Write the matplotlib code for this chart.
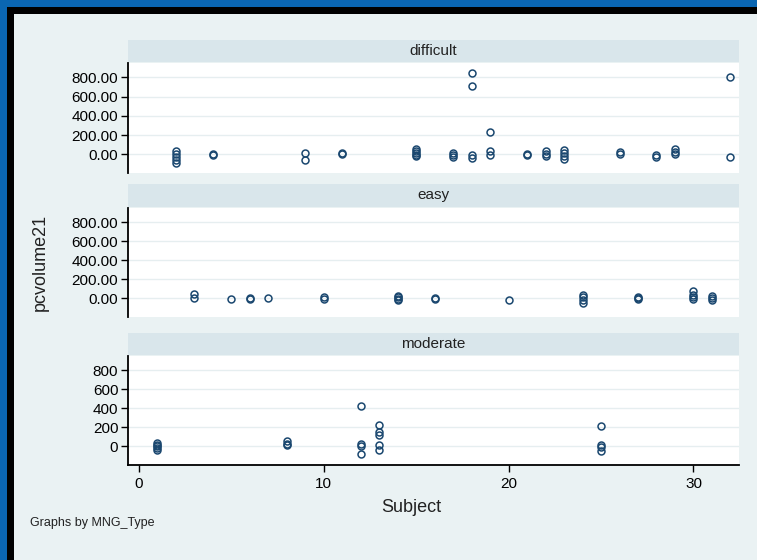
import matplotlib.pyplot as plt
from matplotlib.patches import Rectangle

plt.rcParams['font.family'] = ['Liberation Sans', 'DejaVu Sans']

# subject -> pcvolume21 values, one dict per MNG_Type
difficult = {
    2: [30, 0, -30, -60, -90],
    4: [0, -10],
    9: [15, -55],
    11: [10, 0],
    15: [50, 30, 10, -10, -20],
    17: [10, -10, -30],
    18: [850, 715, -10, -35],
    19: [230, 30, -5],
    21: [5, -5],
    22: [30, 0, -20],
    23: [40, 10, -20, -50],
    26: [20, 0],
    28: [-10, -30],
    29: [50, 20, 0],
    32: [800, -30],
}
easy = {
    3: [45, 5],
    5: [-5],
    6: [5, -5],
    7: [0],
    10: [10, -10],
    14: [30, 10, -10, -20],
    16: [5, -5],
    20: [-12],
    24: [40, 10, -20, -50],
    27: [10, 0, -5],
    30: [75, 40, 10, -10],
    31: [30, 0, -15],
}
moderate = {
    1: [40, 15, 0, -15, -35],
    8: [55, 25, 10],
    12: [425, 30, 5, -80],
    13: [220, 150, 115, 20, -40],
    25: [215, 15, -5, -45],
}

panel_names = ['difficult', 'easy', 'moderate']
panel_data = [difficult, easy, moderate]
y_ticks = [0, 200, 400, 600, 800]
x_ticks = [0, 10, 20, 30]

W, H = 757, 560
bg = '#eaf2f3'
strip_col = '#d9e6eb'
navy = '#1a476f'

fig = plt.figure(figsize=(W / 100, H / 100), dpi=100)
fig.patch.set_facecolor('#0a66b2')


def box(x0, y0, x1, y1):
    # pixel box (top-left origin) -> figure fractions
    return [x0 / W, 1 - y1 / H, (x1 - x0) / W, (y1 - y0) / H]


b = box(7, 7, W, H)
fig.patches.append(Rectangle((b[0], b[1]), b[2], b[3], transform=fig.transFigure,
                             facecolor='black', edgecolor='none', zorder=-2))
b = box(14, 14, W, H)
fig.patches.append(Rectangle((b[0], b[1]), b[2], b[3], transform=fig.transFigure,
                             facecolor=bg, edgecolor='none', zorder=-1))

plot_rows = [(63, 173), (208, 317), (356, 465)]
strip_rows = [(40, 62), (184, 207), (333, 355)]
left, right = 128, 739

for i, (name, data) in enumerate(zip(panel_names, panel_data)):
    sa = fig.add_axes(box(left, strip_rows[i][0], right, strip_rows[i][1]))
    sa.set_facecolor(strip_col)
    sa.set_xticks([])
    sa.set_yticks([])
    for s in sa.spines.values():
        s.set_visible(False)
    sa.text(0.5, 0.5, name, ha='center', va='center', fontsize=11,
            color='#222222', transform=sa.transAxes)

    ax = fig.add_axes(box(left, plot_rows[i][0], right, plot_rows[i][1]))
    ax.set_facecolor('white')
    xs = []
    ys = []
    for subj, vals in data.items():
        for v in vals:
            xs.append(subj)
            ys.append(v)
    ax.plot(xs, ys, 'o', markersize=5, markerfacecolor='none',
            markeredgecolor=navy, markeredgewidth=1.1, zorder=3)

    ax.set_xlim(-0.57, 32.46)
    ax.set_ylim(-195, 950)
    ax.set_yticks(y_ticks)
    if i < 2:
        ax.set_yticklabels([f'{t:.2f}' for t in y_ticks])
    else:
        ax.set_yticklabels([str(t) for t in y_ticks])
    ax.yaxis.grid(True, color='#e6eef0', linewidth=1)
    ax.set_axisbelow(True)
    ax.tick_params(axis='y', length=5, width=1, labelsize=11, pad=2, colors='black')
    ax.spines['top'].set_visible(False)
    ax.spines['right'].set_visible(False)
    ax.spines['left'].set_linewidth(1.3)
    if i < 2:
        ax.spines['bottom'].set_visible(False)
        ax.set_xticks([])
    else:
        ax.spines['bottom'].set_linewidth(1.3)
        ax.set_xticks(x_ticks)
        ax.tick_params(axis='x', length=5, width=1, labelsize=11, pad=4)

fig.text(40 / W, 1 - 262 / H, 'pcvolume21', rotation=90, ha='center', va='center',
         fontsize=13, color='#222222')
fig.text(411 / W, 1 - 508 / H, 'Subject', ha='center', va='center',
         fontsize=13, color='#222222')
fig.text(30 / W, 1 - 523 / H, 'Graphs by MNG_Type', ha='left', va='center',
         fontsize=9, color='#222222')

fig.savefig('out.png', dpi=100, facecolor=fig.get_facecolor())
